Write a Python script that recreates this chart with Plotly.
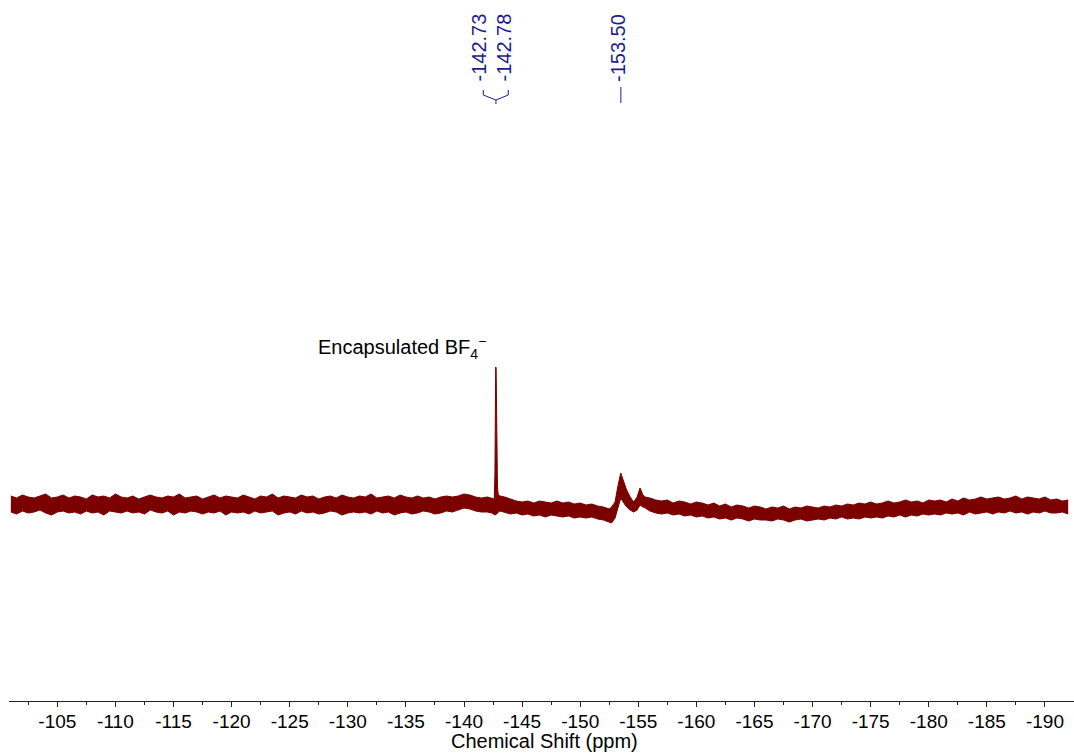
import plotly.graph_objects as go

# ---------------- data ----------------
# chemical shift (ppm) sample positions
ppm = [
    -101.0, -101.5, -102.0, -102.5, -103.0, -103.5, -104.0, -104.5, -105.0, -105.5,
    -106.0, -106.5, -107.0, -107.5, -108.0, -108.5, -109.0, -109.5, -110.0, -110.5,
    -111.0, -111.5, -112.0, -112.5, -113.0, -113.5, -114.0, -114.5, -115.0, -115.5,
    -116.0, -116.5, -117.0, -117.5, -118.0, -118.5, -119.0, -119.5, -120.0, -120.5,
    -121.0, -121.5, -122.0, -122.5, -123.0, -123.5, -124.0, -124.5, -125.0, -125.5,
    -126.0, -126.5, -127.0, -127.5, -128.0, -128.5, -129.0, -129.5, -130.0, -130.5,
    -131.0, -131.5, -132.0, -132.5, -133.0, -133.5, -134.0, -134.5, -135.0, -135.5,
    -136.0, -136.5, -137.0, -137.5, -138.0, -138.5, -139.0,
    -139.5, -140.0, -140.5, -141.0, -141.5, -142.0, -142.4, -142.6, -142.66, -142.70,
    -142.73, -142.76, -142.78, -142.82, -142.88, -142.95, -143.1,
    -143.5, -144.0, -144.5, -145.0, -145.5, -146.0, -146.5, -147.0, -147.5, -148.0,
    -148.5, -149.0, -149.5, -150.0, -150.5, -151.0, -151.5, -152.0, -152.5,
    -152.7, -153.0, -153.23, -153.49, -153.7, -154.0, -154.3, -154.6, -154.9, -155.15,
    -155.4, -155.6,
    -156.0, -156.5, -157.0, -157.5, -158.0, -158.5, -159.0, -159.5, -160.0, -160.5,
    -161.0, -161.5, -162.0, -162.5, -163.0, -163.5, -164.0, -164.5, -165.0, -165.5,
    -166.0, -166.5, -167.0, -167.5, -168.0, -168.5, -169.0, -169.5, -170.0, -170.5,
    -171.0, -171.5, -172.0, -172.5, -173.0, -173.5, -174.0, -174.5, -175.0, -175.5,
    -176.0, -176.5, -177.0, -177.5, -178.0, -178.5, -179.0, -179.5, -180.0, -180.5,
    -181.0, -181.5, -182.0, -182.5, -183.0, -183.5, -184.0, -184.5, -185.0, -185.5,
    -186.0, -186.5, -187.0, -187.5, -188.0, -188.5, -189.0, -189.5, -190.0, -190.5,
    -191.0, -191.5, -192.0,
]

# upper edge of the noisy trace (arbitrary intensity units)
upper = [
    9, 7, 10, 8, 7, 9, 11, 7, 8, 10,
    7, 9, 8, 6, 10, 8, 9, 7, 11, 8,
    7, 9, 6, 8, 10, 8, 7, 9, 8, 11,
    7, 8, 9, 6, 8, 10, 7, 9, 8, 7,
    10, 8, 6, 9, 8, 11, 7, 9, 8, 7,
    10, 8, 9, 6, 8, 9, 7, 10, 8, 7,
    9, 8, 11, 7, 8, 9, 7, 10, 8, 7,
    9, 7, 8, 6, 8, 9, 8,
    9, 11, 10, 8, 7, 8, 7, 6, 30, 115,
    138, 137, 120, 55, 18, 10, 9,
    8, 6, 4, 3, 4, 2, 4, 3, 2, 4,
    2, 3, 1, 2, 0, 1, -1, -2, -4,
    -2, 3, 18, 32, 25, 15, 8, 3, 8, 17,
    10, 8,
    7, 5, 4, 5, 2, 4, 3, 1, 3, 2,
    0, 2, -1, 1, -2, 0, -1, -3, -1, -2,
    -4, -2, -3, -1, -4, -2, -3, -1, -2, -3,
    -1, -2, 0, -1, 1, 0, 2, 1, 3, 1,
    2, 4, 2, 3, 5, 3, 4, 2, 5, 4,
    5, 3, 6, 4, 7, 5, 6, 8, 6, 7,
    8, 6, 7, 9, 6, 8, 7, 6, 8, 5,
    6, 4, 5,
]

# lower edge of the noisy trace
lower = [
    -7, -9, -6, -8, -7, -5, -8, -10, -7, -6,
    -8, -7, -9, -6, -8, -7, -10, -6, -7, -8,
    -6, -8, -7, -9, -5, -7, -8, -6, -10, -7,
    -8, -6, -7, -9, -7, -8, -6, -10, -7, -8,
    -7, -9, -6, -8, -7, -6, -10, -8, -7, -9,
    -6, -8, -7, -9, -8, -6, -7, -10, -8, -7,
    -8, -7, -9, -6, -8, -7, -10, -8, -7, -9,
    -8, -6, -7, -9, -8, -6, -7,
    -5, -3, -4, -6, -7, -7, -8, -10, -10, -10,
    -9, -9, -9, -9, -8, -7, -6,
    -7, -9, -8, -10, -9, -11, -10, -12, -10, -11,
    -12, -11, -13, -12, -13, -12, -14, -15, -17,
    -18, -13, -3, 7, 3, -2, -5, -7, -5, 0,
    -2, -3,
    -6, -8, -9, -8, -10, -9, -11, -10, -12, -11,
    -13, -12, -14, -13, -15, -13, -14, -16, -14, -15,
    -15, -16, -14, -15, -17, -15, -14, -16, -15, -14,
    -15, -13, -14, -12, -14, -13, -14, -12, -13, -12,
    -13, -11, -12, -10, -12, -10, -11, -9, -10, -9,
    -10, -8, -9, -8, -10, -7, -9, -8, -7, -9,
    -7, -8, -6, -8, -7, -9, -7, -8, -6, -8,
    -8, -7, -9,
]

tick_vals = [-105, -110, -115, -120, -125, -130, -135, -140, -145, -150,
             -155, -160, -165, -170, -175, -180, -185, -190]
tick_text = ["-105", "-110", "-115", "-120", "-125", "-130", "-135", "-140", "-145",
             "-150", "-155", "-160", "-165", "-170", "-175", "-180", "-185", "-190"]

peak_labels = ["-142.73", "-142.78", "-153.50"]
peak_label_pos = [-141.29, -143.44, -153.21]   # where the rotated labels sit

# ---------------- figure ----------------
RED = "#7b0000"
BLUE = "#1c1c8f"
FONT = "Arial, Liberation Sans, sans-serif"

fig = go.Figure()
fig.add_trace(go.Scatter(x=ppm, y=upper, mode="lines",
                         line=dict(color=RED, width=1), hoverinfo="skip",
                         showlegend=False))
fig.add_trace(go.Scatter(x=ppm, y=lower, mode="lines", fill="tonexty",
                         fillcolor=RED, line=dict(color=RED, width=1),
                         hoverinfo="skip", showlegend=False))

annotations = []
for lab, pos in zip(peak_labels, peak_label_pos):
    annotations.append(dict(x=pos, y=457.5, xref="x", yref="y", text=lab,
                            textangle=-90, showarrow=False,
                            xanchor="center", yanchor="middle",
                            font=dict(family=FONT, size=20, color=BLUE)))

annotations.append(dict(x=-127.3, y=158, xref="x", yref="y",
                        text="Encapsulated BF<sub>4</sub><sup>−</sup>",
                        showarrow=False, xanchor="left", yanchor="middle",
                        font=dict(family=FONT, size=20, color="black")))

annotations.append(dict(x=0.503, y=-0.0565, xref="paper", yref="paper",
                        text="Chemical Shift (ppm)", showarrow=False,
                        xanchor="center", yanchor="middle",
                        font=dict(family=FONT, size=20, color="black")))

shapes = [
    # bracket joining the two labels of the BF4- doublet
    dict(type="path", xref="x", yref="y",
         path="M -141.66 415 L -141.66 410 L -142.75 405 L -143.81 410 L -143.81 415",
         line=dict(color=BLUE, width=1)),
    dict(type="line", xref="x", yref="y", x0=-142.75, x1=-142.75, y0=405, y1=401,
         line=dict(color=BLUE, width=1)),
    # single mark for -153.50
    dict(type="line", xref="x", yref="y", x0=-153.5, x1=-153.5, y0=418, y1=402,
         line=dict(color=BLUE, width=1)),
]

fig.update_layout(
    width=1074, height=754,
    margin=dict(l=9, r=0, t=0, b=53),
    paper_bgcolor="white", plot_bgcolor="white",
    annotations=annotations, shapes=shapes,
    font=dict(family=FONT, size=20, color="black"),
    xaxis=dict(range=[-100.84, -192.5], showgrid=False, zeroline=False,
               showline=True, linecolor="#222222", linewidth=1,
               ticks="outside", ticklen=5, tickcolor="#222222", tickwidth=1,
               tickvals=tick_vals, ticktext=tick_text,
               tickfont=dict(family=FONT, size=19, color="black"),
               ticklabelstandoff=-2,
               minor=dict(dtick=2.5, tick0=-102.5, ticklen=3, ticks="outside",
                          tickcolor="#222222", showgrid=False)),
    yaxis=dict(range=[-196, 505], visible=False, showgrid=False, zeroline=False),
)

fig.write_html("out.html")
